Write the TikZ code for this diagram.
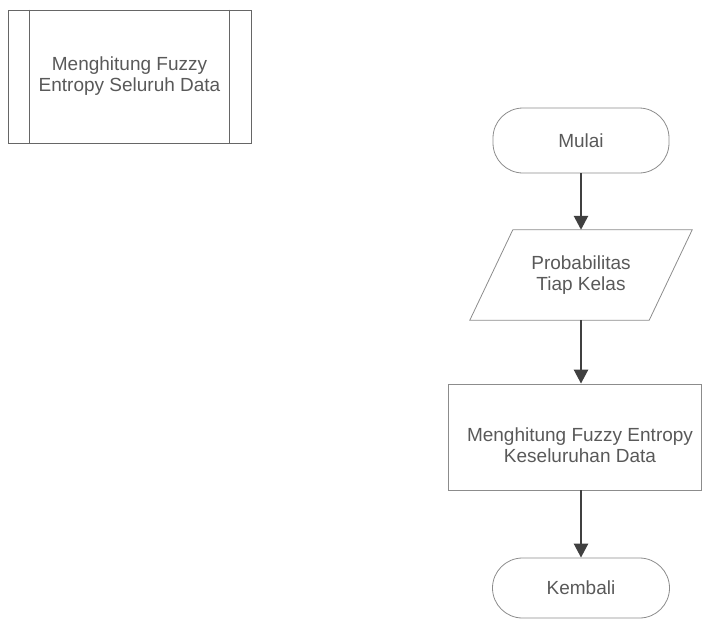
\documentclass[tikz,border=0pt]{standalone}
\usepackage{fontspec}
\setmainfont{Liberation Sans}
\usetikzlibrary{arrows.meta,calc}
\begin{document}
\begin{tikzpicture}[x=1pt,y=1pt,
  lbl/.style={text=black!65, font=\fontsize{19}{21}\selectfont, align=center, inner sep=0pt},
  shapeline/.style={draw=black!45, line width=0.8pt},
  flowarrow/.style={draw=black!75, line width=2.6pt, -{Triangle[width=14pt,length=14pt]}},
  term/.style={lbl, shapeline, rounded corners=30pt}
]
\useasboundingbox (0,0) rectangle (702,-622);
% predefined process (left)
\node[lbl, shapeline, draw=black!60, minimum width=243pt, minimum height=133pt] (pp) at (129.5,-76.5) {Menghitung Fuzzy\\Entropy Seluruh Data};
\draw[draw=black!60, line width=0.8pt] ($(pp.north west)+(22,0)$) -- ($(pp.south west)+(22,0)$);
\draw[draw=black!60, line width=0.8pt] ($(pp.north east)+(-22,0)$) -- ($(pp.south east)+(-22,0)$);
% flow
\node[term, minimum width=176pt, minimum height=65pt] (mulai) at (581,-140.5) {Mulai};
\node[lbl, minimum width=222pt, minimum height=90pt] (par) at (581,-275) {Probabilitas\\Tiap Kelas};
\draw[shapeline] ($(par.north west)+(43,0)$) -- (par.north east) -- ($(par.south east)+(-43,0)$) -- (par.south west) -- cycle;
\node[lbl, shapeline, minimum width=253pt, minimum height=106pt] (proc) at (574.5,-437) {};
\node[lbl] (proctext) at (580,-445) {Menghitung Fuzzy Entropy\\Keseluruhan Data};
\node[term, minimum width=177pt, minimum height=60pt] (kembali) at (581,-588) {Kembali};
\draw[flowarrow] (mulai.south) -- (par.north);
\draw[flowarrow] (par.south) -- (par.south |- proc.north);
\draw[flowarrow] (par.south |- proc.south) -- (kembali.north);
\end{tikzpicture}
\end{document}
